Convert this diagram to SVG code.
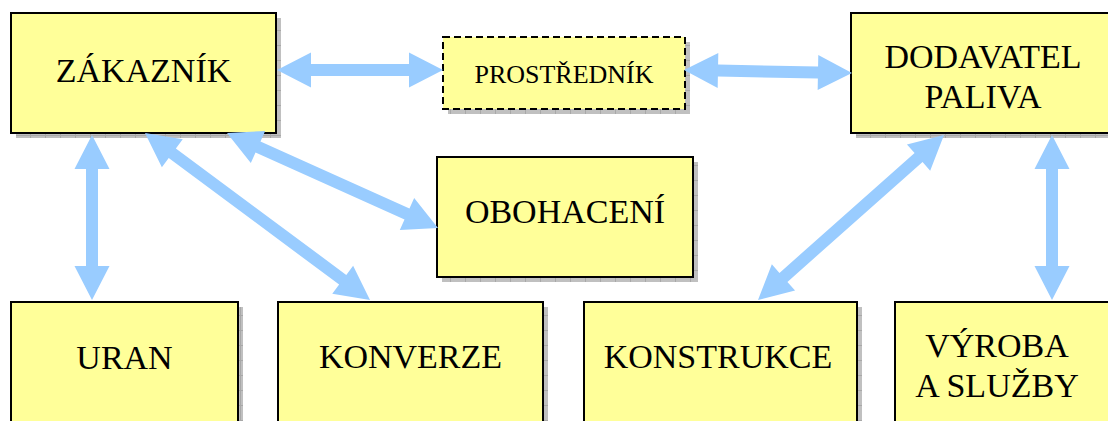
<svg xmlns="http://www.w3.org/2000/svg" width="1108" height="421" viewBox="0 0 1108 421">
<style>
.box{fill:#FFFF99;stroke:#000;stroke-width:2}
.dash{stroke-dasharray:7 4}
.sh{fill:url(#grid)}
.t{font-family:"Liberation Serif","Times New Roman",serif;font-size:34px;fill:#000;text-anchor:middle}
.ts{font-size:26px}
.arr{fill:#99CCFF}
</style>
<defs>
<pattern id="grid" width="15" height="15" patternUnits="userSpaceOnUse">
<rect width="15" height="15" fill="#C0C0C0"/>
<path d="M0,0.5H15M0.5,0V15" stroke="#A8A8A8" stroke-width="1"/>
</pattern>
</defs>
<g id="n-zakaznik">
<rect class="sh" x="16" y="18" width="265" height="120"/>
<rect class="box" x="11" y="13" width="265" height="120"/>
<text class="t" x="143.5" y="82">ZÁKAZNÍK</text>
</g>
<g id="n-prostrednik">
<rect class="sh" x="448" y="42" width="242" height="72"/>
<rect class="box dash" x="443" y="37" width="242" height="72"/>
<text class="t ts" x="564" y="83">PROSTŘEDNÍK</text>
</g>
<g id="n-dodavatel">
<rect class="sh" x="856" y="18" width="270" height="120"/>
<rect class="box" x="851" y="13" width="270" height="120"/>
<text class="t" x="983" y="68">DODAVATEL</text>
<text class="t" x="983" y="108">PALIVA</text>
</g>
<g id="n-obohaceni">
<rect class="sh" x="442" y="162" width="256" height="120"/>
<rect class="box" x="437" y="157" width="256" height="120"/>
<text class="t" x="565" y="223">OBOHACENÍ</text>
</g>
<g id="n-uran">
<rect class="sh" x="16" y="307" width="227" height="130"/>
<rect class="box" x="11" y="302" width="227" height="130"/>
<text class="t" x="124.5" y="369">URAN</text>
</g>
<g id="n-konverze">
<rect class="sh" x="283" y="307" width="265" height="130"/>
<rect class="box" x="278" y="302" width="265" height="130"/>
<text class="t" x="410.5" y="368">KONVERZE</text>
</g>
<g id="n-konstrukce">
<rect class="sh" x="589" y="307" width="273" height="130"/>
<rect class="box" x="584" y="302" width="273" height="130"/>
<text class="t" x="718" y="368">KONSTRUKCE</text>
</g>
<g id="n-vyroba">
<rect class="sh" x="900" y="307" width="220" height="130"/>
<rect class="box" x="895" y="302" width="220" height="130"/>
<text class="t" x="997" y="357">VÝROBA</text>
<text class="t" x="997" y="397">A SLUŽBY</text>
</g>
<g id="connectors" class="arr">
<path transform="translate(277,70)" d="M0,0L34,-17.5L34,-6L132,-6L132,-17.5L166,0L132,17.5L132,6L34,6L34,17.5Z"/>
<path transform="translate(684,70) rotate(1.02)" d="M0,0L34,-17.5L34,-6L134,-6L134,-17.5L168,0L134,17.5L134,6L34,6L34,17.5Z"/>
<path transform="translate(92,135) rotate(90)" d="M0,0L34,-17.5L34,-6L131,-6L131,-17.5L165,0L131,17.5L131,6L34,6L34,17.5Z"/>
<path transform="translate(145,133) rotate(36.58)" d="M0,0L34,-17.5L34,-6L246.2,-6L246.2,-17.5L280.2,0L246.2,17.5L246.2,6L34,6L34,17.5Z"/>
<path transform="translate(227,133) rotate(24.24)" d="M0,0L34,-17.5L34,-6L197.4,-6L197.4,-17.5L231.4,0L197.4,17.5L197.4,6L34,6L34,17.5Z"/>
<path transform="translate(944,135) rotate(138.43)" d="M0,0L34,-17.5L34,-6L214.6,-6L214.6,-17.5L248.6,0L214.6,17.5L214.6,6L34,6L34,17.5Z"/>
<path transform="translate(1052,135) rotate(90)" d="M0,0L34,-17.5L34,-6L131,-6L131,-17.5L165,0L131,17.5L131,6L34,6L34,17.5Z"/>
</g>
</svg>
